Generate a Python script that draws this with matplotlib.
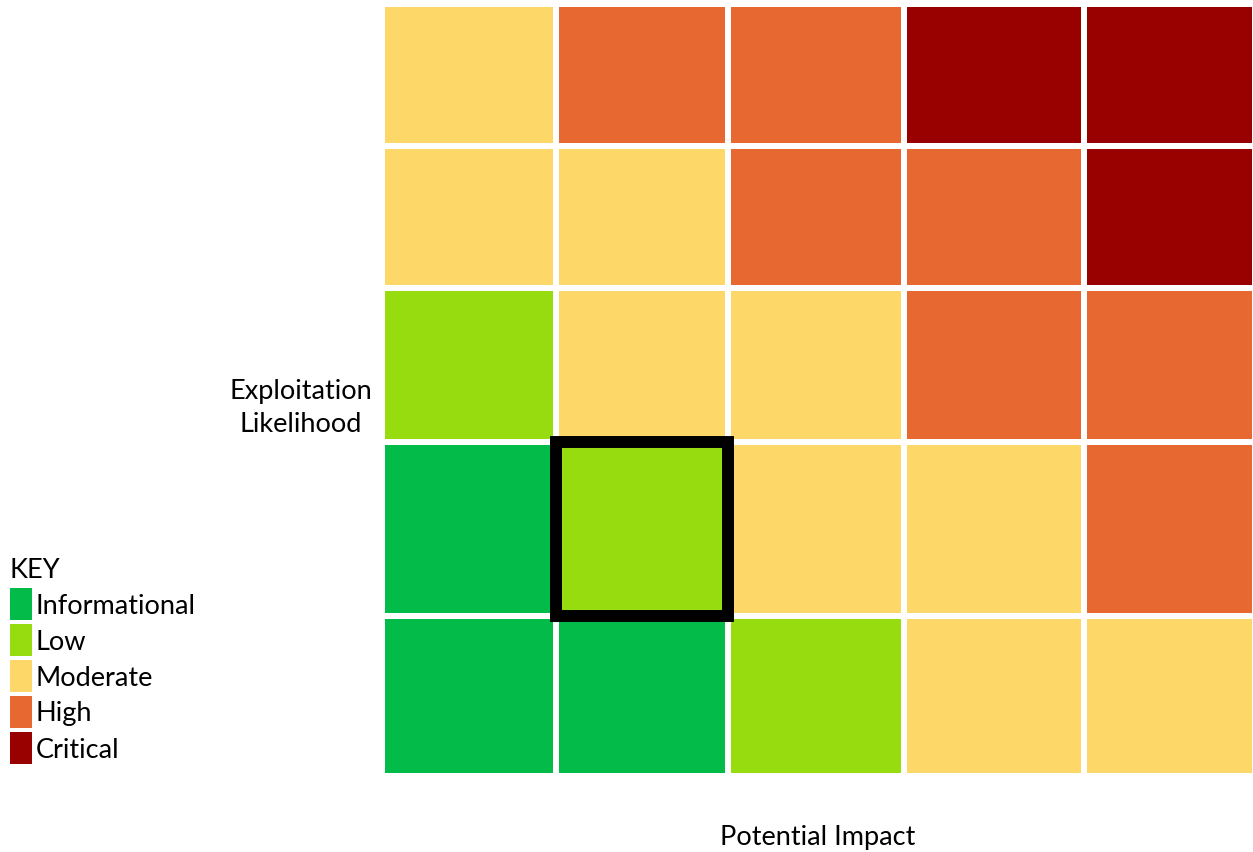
import matplotlib.pyplot as plt
import numpy as np
from matplotlib.colors import ListedColormap, BoundaryNorm
from matplotlib.patches import Rectangle

plt.rcParams['font.family'] = ['Lato', 'DejaVu Sans']

# severity levels and their colours
levels = ['Informational', 'Low', 'Moderate', 'High', 'Critical']
level_colors = ['#03BB48', '#96DC0F', '#FDD868', '#E86831', '#990000']

# risk matrix, rows from top (high likelihood) to bottom, columns = impact
# 0=Informational 1=Low 2=Moderate 3=High 4=Critical
matrix = [
    [2, 3, 3, 4, 4],
    [2, 2, 3, 3, 4],
    [1, 2, 2, 3, 3],
    [0, 1, 2, 2, 3],
    [0, 0, 1, 2, 2],
]
# highlighted cell (row from top, column)
highlight = (3, 1)

# cell sizes (pixels) as they appear in the reference
col_widths = [174, 172, 176, 180, 171]
row_heights_top = [142, 142, 154, 174, 160]

W, H = 1253, 853
fs = 19.5
fig = plt.figure(figsize=(W / 100, H / 100), dpi=100)

ax = fig.add_axes([382 / W, 1 - 777 / H, sum(col_widths) / W, sum(row_heights_top) / H])
xe = np.concatenate([[0], np.cumsum(col_widths)])
ye = np.concatenate([[0], np.cumsum(row_heights_top[::-1])])
grid = np.array(matrix)[::-1]

cmap = ListedColormap(level_colors)
norm = BoundaryNorm(np.arange(-0.5, 5.5, 1), cmap.N)
ax.pcolormesh(xe, ye, grid, cmap=cmap, norm=norm, edgecolors='white', linewidth=2.9)
ax.set_xlim(xe[0], xe[-1])
ax.set_ylim(ye[0], ye[-1])
ax.axis('off')

r, c = highlight
rb = len(matrix) - 1 - r
ax.add_patch(Rectangle((xe[c], ye[rb]), col_widths[c], ye[rb + 1] - ye[rb],
                       fill=False, edgecolor='black', linewidth=8.6, clip_on=False))

# axis labels
fig.text(301 / W, 1 - 408 / H, 'Exploitation\nLikelihood', ha='center', va='center',
         fontsize=fs, multialignment='center', linespacing=1.38)
fig.text(818 / W, 1 - 838 / H, 'Potential Impact', ha='center', va='center', fontsize=fs)

# key
fig.text(10 / W, 1 - 570 / H, 'KEY', ha='left', va='center', fontsize=fs)
for i, (name, col) in enumerate(zip(levels, level_colors)):
    top = 589 + 36 * i
    fig.add_artist(Rectangle((10 / W, 1 - (top + 32) / H), 22 / W, 32 / H,
                             transform=fig.transFigure, facecolor=col, edgecolor='none'))
    fig.text(36 / W, 1 - (top + 17) / H, name, ha='left', va='center', fontsize=fs)

fig.savefig('out.png', dpi=100)
